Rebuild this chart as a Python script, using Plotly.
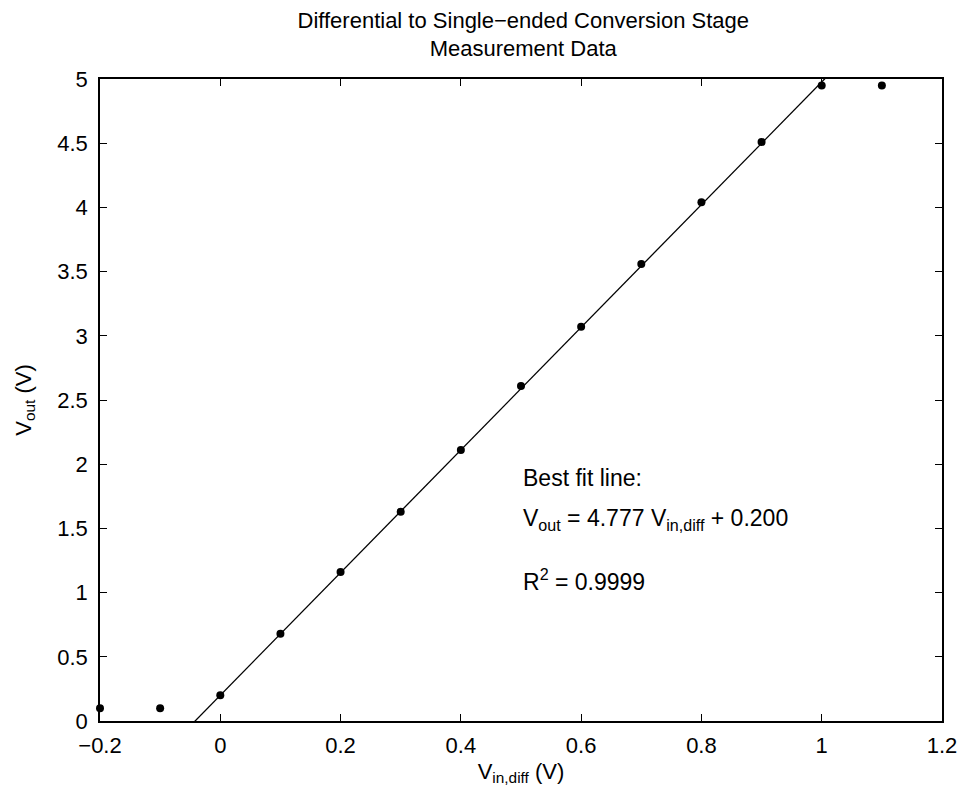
import plotly.graph_objects as go

# Measured differential input vs. single-ended output
vin_diff = [-0.2, -0.1, 0.0, 0.1, 0.2, 0.3, 0.4, 0.5, 0.6, 0.7, 0.8, 0.9, 1.0, 1.1]
vout = [0.10, 0.10, 0.20, 0.68, 1.16, 1.63, 2.11, 2.61, 3.07, 3.56, 4.04, 4.51, 4.95, 4.95]

# Least-squares fit over the linear region
slope = 4.777
intercept = 0.200
r_squared = 0.9999
fit_x = [-0.2, 1.2]
fit_y = [slope * x + intercept for x in fit_x]

x_ticks = [-0.2, 0, 0.2, 0.4, 0.6, 0.8, 1, 1.2]
y_ticks = [0, 0.5, 1, 1.5, 2, 2.5, 3, 3.5, 4, 4.5, 5]


def fmt(v):
    s = "%g" % v
    return s.replace("-", "\u2212")


font = "Liberation Sans, Arial, Helvetica, sans-serif"
tick_font = dict(family=font, size=22, color="black")

fig = go.Figure()
fig.add_trace(go.Scatter(
    x=fit_x, y=fit_y, mode="lines",
    line=dict(color="black", width=1.3),
    showlegend=False, hoverinfo="skip",
))
fig.add_trace(go.Scatter(
    x=vin_diff, y=vout, mode="markers",
    marker=dict(color="black", size=8),
    showlegend=False, cliponaxis=False,
))

axis_common = dict(
    showline=True, linecolor="black", linewidth=1.5, mirror="ticks",
    ticks="inside", ticklen=7, tickwidth=1, tickcolor="black",
    showgrid=False, zeroline=False,
    tickfont=tick_font,
)

fig.update_xaxes(
    range=[-0.2, 1.2], tickvals=x_ticks,
    ticktext=[fmt(v) for v in x_ticks],
    ticklabelstandoff=4,
    title=dict(text="V<sub>in,diff</sub> (V)", font=tick_font, standoff=6),
    **axis_common,
)
fig.update_yaxes(
    range=[0, 5], tickvals=y_ticks,
    ticktext=[fmt(v) for v in y_ticks],
    ticklabelstandoff=6,
    title=dict(text="V<sub>out</sub> (V)", font=tick_font, standoff=20),
    **axis_common,
)

ann_font = dict(family=font, size=23, color="black")
fig.add_annotation(x=0.5, y=1.89, xref="x", yref="y", text="Best fit line:",
                   showarrow=False, xanchor="left", yanchor="middle", font=ann_font)
fig.add_annotation(x=0.5, y=1.57, xref="x", yref="y",
                   text=f"V<sub>out</sub> = {slope:.3f} V<sub>in,diff</sub> + {intercept:.3f}",
                   showarrow=False, xanchor="left", yanchor="middle", font=ann_font)
fig.add_annotation(x=0.5, y=1.10, xref="x", yref="y", text=f"R<sup>2</sup> = {r_squared:.4f}",
                   showarrow=False, xanchor="left", yanchor="middle", font=ann_font)

fig.update_layout(
    width=969, height=792,
    margin=dict(l=100, r=22, t=79, b=71),
    paper_bgcolor="white", plot_bgcolor="white",
    title=dict(
        text="Differential to Single\u2212ended Conversion Stage<br>Measurement Data",
        x=0.54, xanchor="center", y=0.965, yanchor="middle", yref="container",
        font=dict(family=font, size=22, color="black"),
    ),
)

fig.write_html("out.html")
